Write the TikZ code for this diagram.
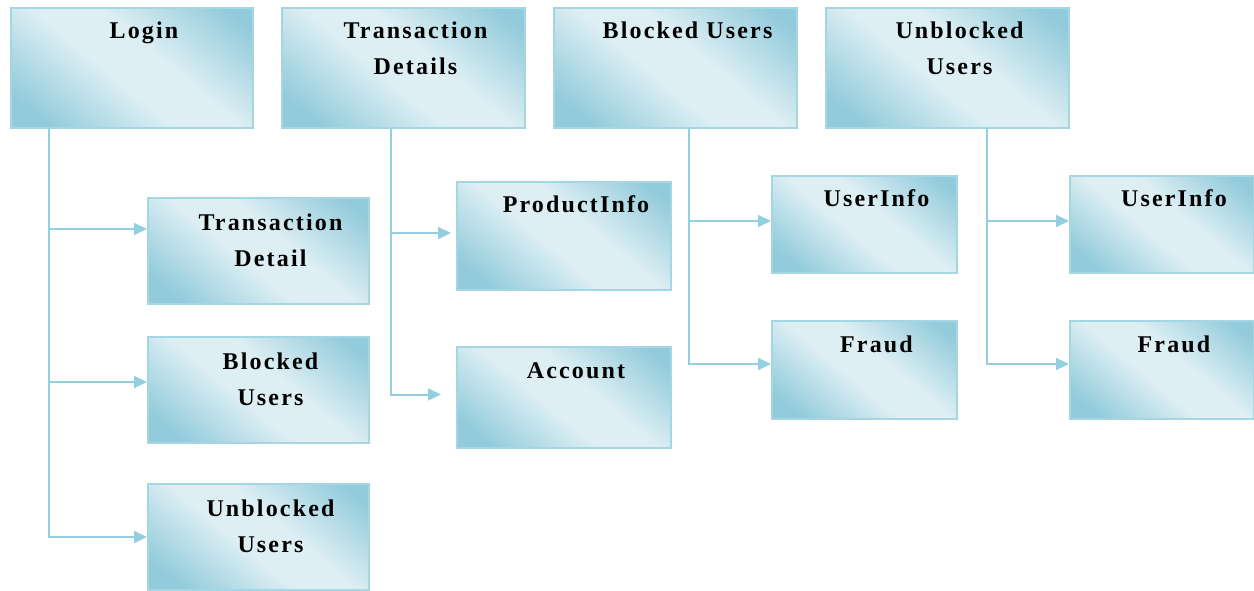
\documentclass[tikz,border=0pt]{standalone}
\usepackage{fontspec}
\setmainfont{Liberation Serif}[LetterSpace=9]
\usetikzlibrary{arrows.meta,fit,shadings}
\definecolor{boxdark}{HTML}{92CBDB}
\definecolor{boxlight}{HTML}{DEEFF4}
\definecolor{boxedge}{HTML}{A4D6E3}
\definecolor{linecol}{HTML}{93CFDF}
\pgfdeclareverticalshading{boxshade}{100bp}{%
  color(0bp)=(boxdark); color(22bp)=(boxdark); color(45bp)=(boxlight);
  color(57bp)=(boxlight); color(80bp)=(boxdark); color(100bp)=(boxdark)}
\tikzset{
  box/.style={draw=boxedge, line width=2pt, inner sep=0pt,
    shading=boxshade, shading angle=-40},
  lbl/.style={anchor=base, inner sep=0pt, font=\fontsize{24}{36}\selectfont\bfseries},
  conn/.style={draw=linecol, line width=2pt, -{Triangle[length=13pt,width=12pt]}}
}
\begin{document}
\begin{tikzpicture}[x=1pt,y=-1pt]
\useasboundingbox (0,0) rectangle (1254,591);
% top row
\node[box, fit={(11,8)(253,128)}] (login) {};
\node[box, fit={(282,8)(525,128)}] (tdet) {};
\node[box, fit={(554,8)(797,128)}] (blk) {};
\node[box, fit={(826,8)(1069,128)}] (ublk) {};
% login children
\node[box, fit={(148,198)(369,304)}] (tdetail) {};
\node[box, fit={(148,337)(369,443)}] (blk2) {};
\node[box, fit={(148,484)(369,590)}] (ublk2) {};
% transaction details children
\node[box, fit={(457,182)(671,290)}] (prod) {};
\node[box, fit={(457,347)(671,448)}] (acc) {};
% blocked children
\node[box, fit={(772,176)(957,273)}] (uinfo) {};
\node[box, fit={(772,321)(957,419)}] (fraud) {};
% unblocked children
\node[box, fit={(1070,176)(1254,273)}] (uinfo2) {};
\node[box, fit={(1070,321)(1254,419)}] (fraud2) {};

% labels
\node[lbl] (login-l) at ([xshift=12pt,yshift=-32pt]login.north) {Login};
\node[lbl] (tdet-l1) at ([xshift=12pt,yshift=-32pt]tdet.north) {Transaction};
\node[lbl] (tdet-l2) at ([xshift=12pt,yshift=-68pt]tdet.north) {Details};
\node[lbl] (blk-l) at ([xshift=12pt,yshift=-32pt]blk.north) {Blocked Users};
\node[lbl] (ublk-l1) at ([xshift=12pt,yshift=-32pt]ublk.north) {Unblocked};
\node[lbl] (ublk-l2) at ([xshift=12pt,yshift=-68pt]ublk.north) {Users};
\node[lbl] (tdetail-l1) at ([xshift=12pt,yshift=-33pt]tdetail.north) {Transaction};
\node[lbl] (tdetail-l2) at ([xshift=12pt,yshift=-69pt]tdetail.north) {Detail};
\node[lbl] (blk2-l1) at ([xshift=12pt,yshift=-33pt]blk2.north) {Blocked};
\node[lbl] (blk2-l2) at ([xshift=12pt,yshift=-69pt]blk2.north) {Users};
\node[lbl] (ublk2-l1) at ([xshift=12pt,yshift=-33pt]ublk2.north) {Unblocked};
\node[lbl] (ublk2-l2) at ([xshift=12pt,yshift=-69pt]ublk2.north) {Users};
\node[lbl] (prod-l) at ([xshift=12pt,yshift=-32pt]prod.north) {ProductInfo};
\node[lbl] (acc-l) at ([xshift=12pt,yshift=-32pt]acc.north) {Account};
\node[lbl] (uinfo-l) at ([xshift=12pt,yshift=-32pt]uinfo.north) {UserInfo};
\node[lbl] (fraud-l) at ([xshift=12pt,yshift=-32pt]fraud.north) {Fraud};
\node[lbl] (uinfo2-l) at ([xshift=12pt,yshift=-32pt]uinfo2.north) {UserInfo};
\node[lbl] (fraud2-l) at ([xshift=12pt,yshift=-32pt]fraud2.north) {Fraud};

% trunk x positions
\coordinate (xL) at (49,0);
\coordinate (xT) at (391,0);
\coordinate (xB) at (689,0);
\coordinate (xU) at (987,0);

% connectors
\draw[conn] (login.south -| xL) |- ([yshift=22pt]tdetail.west);
\draw[conn] (login.south -| xL) |- ([yshift=8pt]blk2.west);
\draw[conn] (login.south -| xL) |- ([yshift=0pt]ublk2.west);

\draw[conn, shorten >=5pt] (tdet.south -| xT) |- ([yshift=3pt]prod.west);
\draw[conn, shorten >=15pt] (tdet.south -| xT) |- ([yshift=3pt]acc.west);

\draw[conn] (blk.south -| xB) |- ([yshift=3.5pt]uinfo.west);
\draw[conn] (blk.south -| xB) |- ([yshift=6pt]fraud.west);

\draw[conn] (ublk.south -| xU) |- ([yshift=3.5pt]uinfo2.west);
\draw[conn] (ublk.south -| xU) |- ([yshift=6pt]fraud2.west);
\end{tikzpicture}
\end{document}
